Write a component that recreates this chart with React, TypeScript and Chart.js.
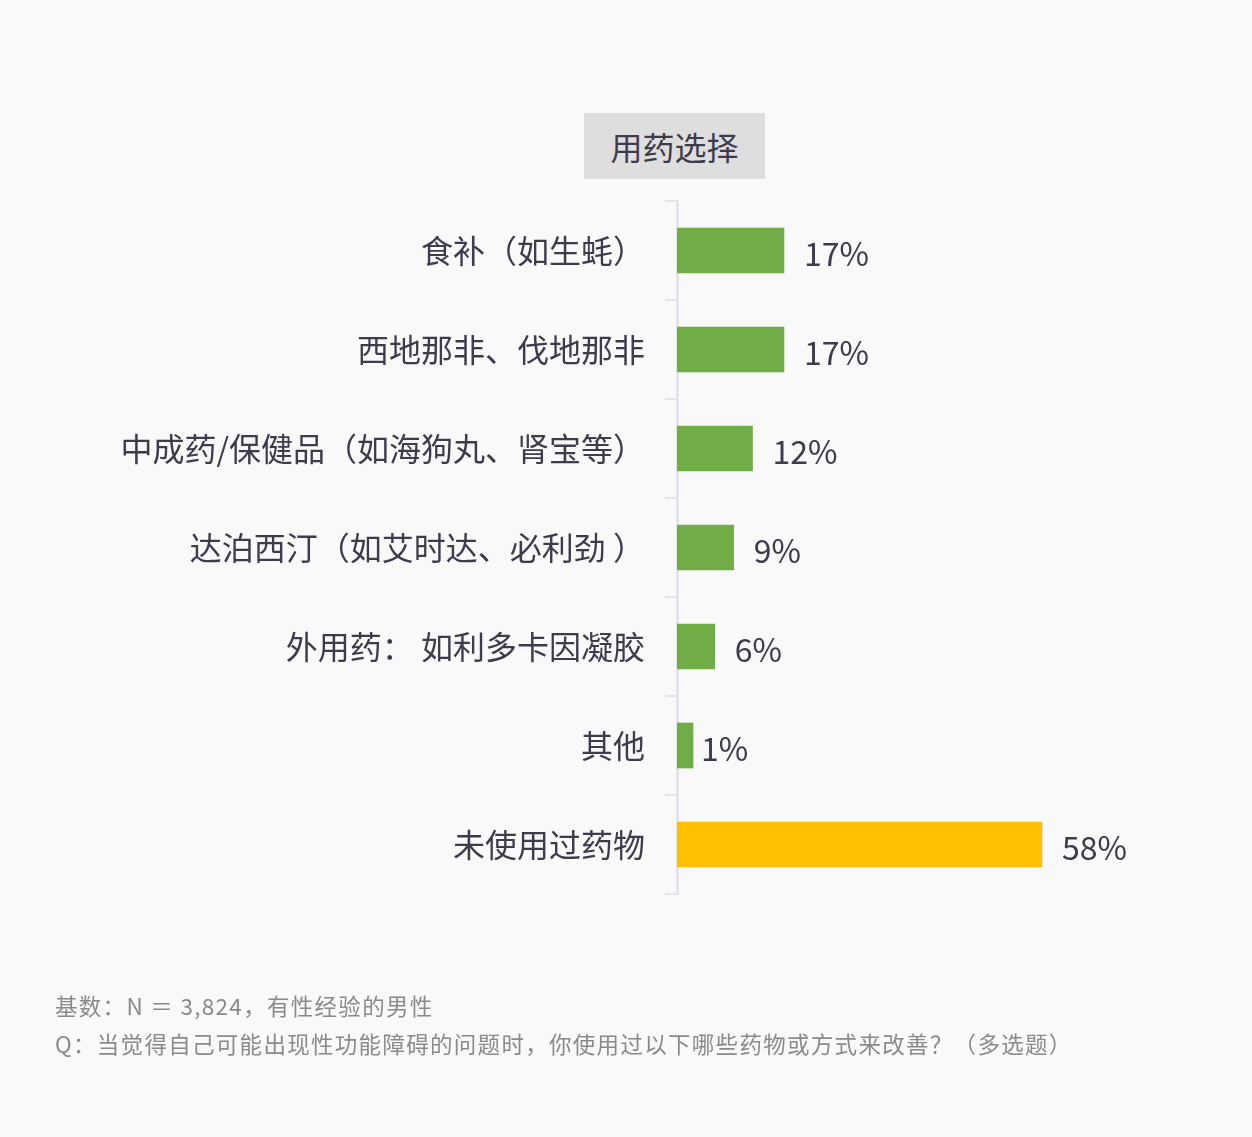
import React, { useEffect, useRef } from "react";
import { Chart, registerables } from "chart.js";

Chart.register(...registerables);

const categories = [
  "食补（如生蚝）",
  "西地那非、伐地那非",
  "中成药/保健品（如海狗丸、肾宝等）",
  "达泊西汀（如艾时达、必利劲 ）",
  "外用药： 如利多卡因凝胶",
  "其他",
  "未使用过药物",
];
const values = [17, 17, 12, 9, 6, 1, 58];
const barColors = ["#70AD47", "#70AD47", "#70AD47", "#70AD47", "#70AD47", "#70AD47", "#FFC000"];
const titleText = "用药选择";
const footnotes = [
  "基数：N ＝ 3,824，有性经验的男性",
  "Q：当觉得自己可能出现性功能障碍的问题时，你使用过以下哪些药物或方式来改善？（多选题）",
];

const FONT = "'Noto Sans CJK SC', 'Microsoft YaHei', sans-serif";
const TEXT = "#3d3b4c";

const valueLabels = {
  id: "valueLabels",
  afterDatasetsDraw(chart: any) {
    const ctx = chart.ctx;
    const meta = chart.getDatasetMeta(0);
    ctx.save();
    ctx.font = `32px ${FONT}`;
    ctx.fillStyle = TEXT;
    ctx.textAlign = "left";
    ctx.textBaseline = "middle";
    meta.data.forEach((bar: any, i: number) => {
      const gap = values[i] < 3 ? 8 : 20;
      ctx.fillText(`${values[i]}%`, bar.x + gap, bar.y + 3);
    });
    ctx.restore();
  },
};

export default function App() {
  const ref = useRef<HTMLCanvasElement | null>(null);
  useEffect(() => {
    if (!ref.current) return;
    const chart = new Chart(ref.current, {
      type: "bar",
      data: {
        labels: categories,
        datasets: [
          {
            data: values,
            backgroundColor: barColors,
            borderWidth: 0,
            barThickness: 45,
            minBarLength: 16,
          },
        ],
      },
      options: {
        indexAxis: "y",
        animation: false,
        responsive: false,
        devicePixelRatio: 1,
        layout: { padding: { top: 201, bottom: 243, left: 0, right: 76 } },
        plugins: {
          legend: { display: false },
          tooltip: { enabled: false },
          title: { display: false },
        },
        scales: {
          x: { display: false, min: 0, max: 79.3 },
          y: {
            afterFit(scale: any) {
              scale.width = 677;
            },
            border: { display: true, color: "#e4e5ea", width: 3 },
            grid: {
              display: true,
              drawOnChartArea: false,
              drawTicks: true,
              tickLength: 12,
              color: "#e4e5ea",
              lineWidth: 2,
              offset: true,
            },
            ticks: {
              color: TEXT,
              font: { family: FONT, size: 32 },
              padding: 20,
            },
          },
        },
      },
      plugins: [valueLabels],
    });
    return () => chart.destroy();
  }, []);

  return (
    <div
      style={{
        position: "fixed",
        left: 0,
        top: 0,
        width: 1252,
        height: 1137,
        background: "#f8f9f8",
        overflow: "hidden",
        fontFamily: FONT,
      }}
    >
      <canvas ref={ref} width={1252} height={1137} style={{ position: "absolute", left: 0, top: 0 }} />
      <div
        style={{
          position: "absolute",
          left: 584,
          top: 113,
          width: 181,
          height: 66,
          background: "#dedede",
          color: TEXT,
          fontSize: 32,
          lineHeight: "66px",
          textAlign: "center",
        }}
      >
        {titleText}
      </div>
      {footnotes.map((t, i) => (
        <div
          key={i}
          style={{
            position: "absolute",
            left: 55,
            top: 988 + i * 38,
            fontSize: 22.5,
            lineHeight: "34px",
            letterSpacing: "1.3px",
            color: "#8a8a8a",
            whiteSpace: "nowrap",
          }}
        >
          {t}
        </div>
      ))}
    </div>
  );
}
